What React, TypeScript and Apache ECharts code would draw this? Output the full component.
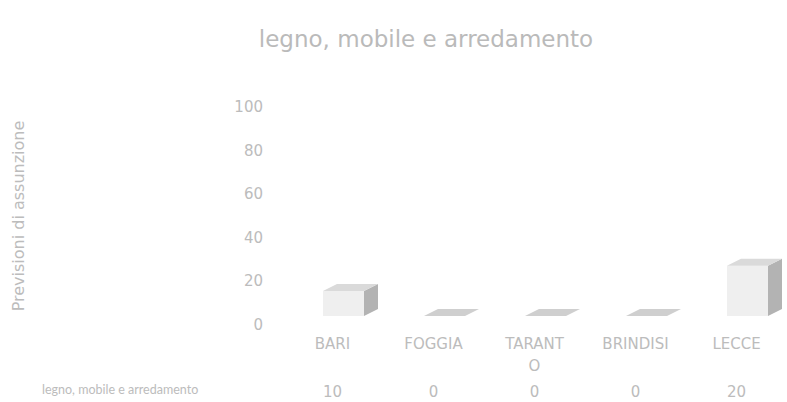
import React, { useEffect, useRef } from "react";
import * as echarts from "echarts";

const titleText = "legno, mobile e arredamento";
const seriesName = "legno, mobile e arredamento";
const yAxisName = "Previsioni di assunzione";
const categories = ["BARI", "FOGGIA", "TARANTO", "BRINDISI", "LECCE"];
const values = [10, 0, 0, 0, 20];
const yTicks = { min: 0, max: 100, interval: 20 };

const TXT = "#bcbcbc";
const FONT = "'DejaVu Sans', sans-serif";

export default function App() {
  const ref = useRef<HTMLDivElement>(null);
  useEffect(() => {
    if (!ref.current) return;
    const chart = echarts.init(ref.current, undefined, { renderer: "svg" });
    chart.setOption({
      animation: false,
      backgroundColor: "#ffffff",
      textStyle: { fontFamily: FONT },
      title: {
        text: titleText,
        left: 421,
        textAlign: "center",
        top: 22,
        textStyle: { color: "#bababa", fontSize: 23, fontWeight: "normal", fontFamily: FONT },
      },
      grid: { left: 282, right: -5, top: 107, bottom: 77, containLabel: false },
      xAxis: [
        {
          type: "category",
          data: categories,
          position: "bottom",
          axisLine: { show: false },
          axisTick: { show: false },
          axisLabel: {
            color: TXT,
            fontSize: 15,
            margin: 8,
            lineHeight: 22,
            formatter: (v: string) => (v === "TARANTO" ? v.slice(0, 6) + "\n" + v.slice(6) : v),
          },
        },
        {
          type: "category",
          data: values.map((v) => String(v)),
          position: "bottom",
          offset: 47,
          axisLine: { show: false },
          axisTick: { show: false },
          axisLabel: { color: TXT, fontSize: 15, margin: 12 },
        },
      ],
      yAxis: {
        type: "value",
        min: yTicks.min,
        max: yTicks.max,
        interval: yTicks.interval,
        name: yAxisName,
        nameLocation: "middle",
        nameGap: 256,
        nameTextStyle: { color: TXT, fontSize: 16, fontFamily: FONT },
        axisLine: { show: false },
        axisTick: { show: false },
        splitLine: { show: false },
        axisLabel: { color: TXT, fontSize: 15, margin: 19 },
      },
      graphic: [
        {
          type: "text",
          left: 42,
          top: 383,
          style: { text: seriesName, fill: TXT, fontSize: 12.5, fontFamily: "Lato, sans-serif" },
        },
      ],
      series: [
        {
          type: "custom",
          name: seriesName,
          data: values.map((v, i) => [i, v]),
          renderItem: (params: any, api: any) => {
            const idx = api.value(0);
            const val = api.value(1);
            const top = api.coord([idx, val]);
            const base = api.coord([idx, 0]);
            const bw = 41;
            const dx = 14;
            const dy = -7;
            const shift = 11;
            const lift = -9;
            const x0 = top[0] - bw / 2 + shift;
            const x1 = x0 + bw;
            const yB = base[1] + lift;
            const yT = yB - (base[1] - top[1]) * 1.15;
            const children: any[] = [];
            if (yB - yT > 0.5) {
              children.push({
                type: "polygon",
                shape: { points: [[x1, yT], [x1 + dx, yT + dy], [x1 + dx, yB + dy], [x1, yB]] },
                style: { fill: "#b3b3b3" },
              });
              children.push({
                type: "rect",
                shape: { x: x0, y: yT, width: bw, height: yB - yT },
                style: { fill: "#efefef" },
              });
            }
            children.push({
              type: "polygon",
              shape: { points: [[x0, yT], [x0 + dx, yT + dy], [x1 + dx, yT + dy], [x1, yT]] },
              style: { fill: yB - yT > 0.5 ? "#dadada" : "#cfcfcf" },
            });
            return { type: "group", children };
          },
        },
      ],
    });
    return () => chart.dispose();
  }, []);
  return (
    <div
      ref={ref}
      style={{ position: "absolute", left: 0, top: 0, width: 787, height: 402 }}
    />
  );
}
